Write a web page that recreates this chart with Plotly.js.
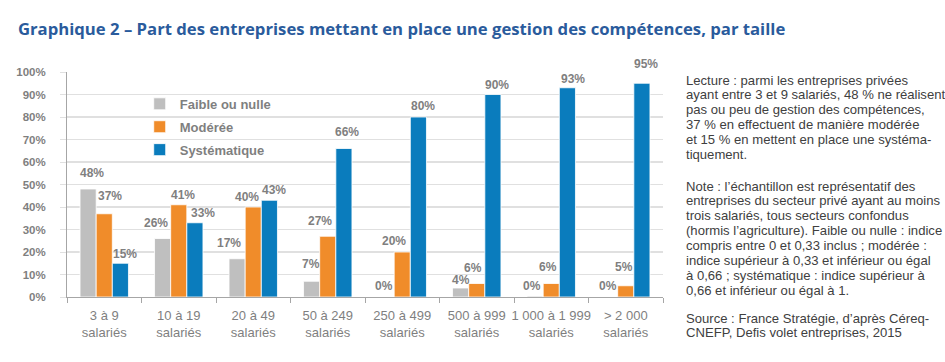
<!DOCTYPE html>
<html><head><meta charset="utf-8">
<script src="https://cdn.plot.ly/plotly-3.0.1.min.js"></script>
<style>html,body{margin:0;padding:0;background:#fff;}#chart{width:945px;height:362px;}</style>
</head><body><div id="chart"></div>
<script>
const categories = ["3 à 9<br>salariés","10 à 19<br>salariés","20 à 49<br>salariés","50 à 249<br>salariés","250 à 499<br>salariés","500 à 999<br>salariés","1 000 à 1 999<br>salariés","> 2 000<br>salariés"];
const faible = [48, 26, 17, 7, 0, 4, 0.4, 0];
const moderee = [37, 41, 40, 27, 20, 6, 6, 5];
const systematique = [15, 33, 43, 66, 80, 90, 93, 95];
const seriesNames = ["Faible ou nulle", "Modérée", "Systématique"];
const yTicks = [0,10,20,30,40,50,60,70,80,90,100];
const titleText = "Graphique 2 – Part des entreprises mettant en place une gestion des compétences, par taille";
const lectureLines = ["Lecture : parmi les entreprises privées", "ayant entre 3 et 9 salariés, 48 % ne réalisent", "pas ou peu de gestion des compétences,", "37 % en effectuent de manière modérée", "et 15 % en mettent en place une systéma-", "tiquement."];
const noteLines = ["Note : l’échantillon est représentatif des", "entreprises du secteur privé ayant au moins", "trois salariés, tous secteurs confondus", "(hormis l’agriculture). Faible ou nulle : indice", "compris entre 0 et 0,33 inclus ; modérée :", "indice supérieur à 0,33 et inférieur ou égal", "à 0,66 ; systématique : indice supérieur à", "0,66 et inférieur ou égal à 1."];
const sourceLines = ["Source : France Stratégie, d’après Céreq-", "CNEFP, Defis volet entreprises, 2015"];

// label placement nudges (pixels), one row per series — styling only
const labelDx = [[4, -7, -8, -1, -2, 0, -3, -2], [6, 4, -6, -8, -8, -4, -3, -2], [5, 8, 5, 3, 5, 4, 6, 4]];
const labelDy = [[7, 7, 7, 8, 2, -1, 1, 2], [9, 1, 1, 6, 2, 7, 8, 10], [0, 1, 1, 8, 2, 1, 0, 10]];

const colors = ["#bfbfbf", "#f08c2a", "#0a7cbd"];
const gray = "#7f7f7f";
const series = [faible, moderee, systematique];
const data = series.map((vals, i) => ({
  type: "bar",
  name: seriesNames[i],
  legendgroup: "g" + i,
  x: categories,
  y: vals,
  marker: {color: colors[i], line: {color: "#ffffff", width: 0.8}},
  hoverinfo: "skip"
}));

const mL = 67, mR = 282, mT = 72, mB = 65, W = 945, H = 362;
const plotW = W - mL - mR;
const bargap = 0.35;
const barW = plotW / categories.length * (1 - bargap) / 3;
const annotations = [];
series.forEach((vals, i) => {
  vals.forEach((v, j) => {
    annotations.push({
      xref: "x", yref: "y", x: categories[j], y: v,
      text: Math.round(v) + "%", showarrow: false,
      xanchor: "center", yanchor: "bottom",
      xshift: (i - 1) * barW + labelDx[i][j], yshift: labelDy[i][j],
      font: {family: "Liberation Sans, Arial, sans-serif", size: 12, color: gray, weight: "bold"}
    });
  });
});

const noteFont = {family: "Liberation Sans, Arial, sans-serif", size: 13.1, color: "#404040"};
const lineStep = 14.9;
[[lectureLines, 80], [noteLines, 186], [sourceLines, 318]].forEach(([lines, top]) => {
  lines.forEach((t, k) => {
    annotations.push({
      xref: "paper", yref: "paper", x: 1.035, y: 1, xanchor: "left", yanchor: "middle",
      yshift: mT - (top + k * lineStep),
      text: t, showarrow: false, align: "left", font: noteFont
    });
  });
});

const layout = {
  width: W, height: H,
  margin: {l: mL, r: mR, t: mT, b: mB},
  paper_bgcolor: "#ffffff", plot_bgcolor: "#ffffff",
  barmode: "group", bargap: bargap, bargroupgap: 0,
  showlegend: true,
  legend: {x: 0.122, y: 0.925, xanchor: "left", yanchor: "top", bgcolor: "rgba(0,0,0,0)",
    font: {family: "Liberation Sans, Arial, sans-serif", size: 13, color: gray, weight: "bold"},
    itemwidth: 30, tracegroupgap: 3},
  title: {text: titleText, x: 0.019, xanchor: "left", y: 0.92, yanchor: "middle",
    font: {family: "Open Sans, sans-serif", size: 16.7, color: "#2a5b9c", weight: "bold"}},
  xaxis: {showgrid: false, showline: true, linecolor: "#a6a6a6", linewidth: 1,
    ticks: "outside", tickcolor: "#a6a6a6", ticklen: 5, tickson: "boundaries", tickangle: 0,
    ticklabelstandoff: 6,
    tickfont: {family: "Liberation Sans Narrow, Liberation Sans, Arial, sans-serif", size: 13, color: gray}, fixedrange: true},
  yaxis: {range: [0, 100], tickvals: yTicks, ticktext: yTicks.map(v => v + "%"),
    showgrid: true, gridcolor: "#e0e0e0", gridwidth: 1.5,
    showline: true, linecolor: "#a6a6a6", linewidth: 1, zeroline: false,
    ticks: "outside", tickcolor: "#e0e0e0", ticklen: 6, ticklabelstandoff: 12,
    tickfont: {family: "Liberation Sans, Arial, sans-serif", size: 11.5, color: gray, weight: "bold"}},
  annotations: annotations
};
Plotly.newPlot("chart", data, layout, {displayModeBar: false, staticPlot: true});
</script></body></html>
